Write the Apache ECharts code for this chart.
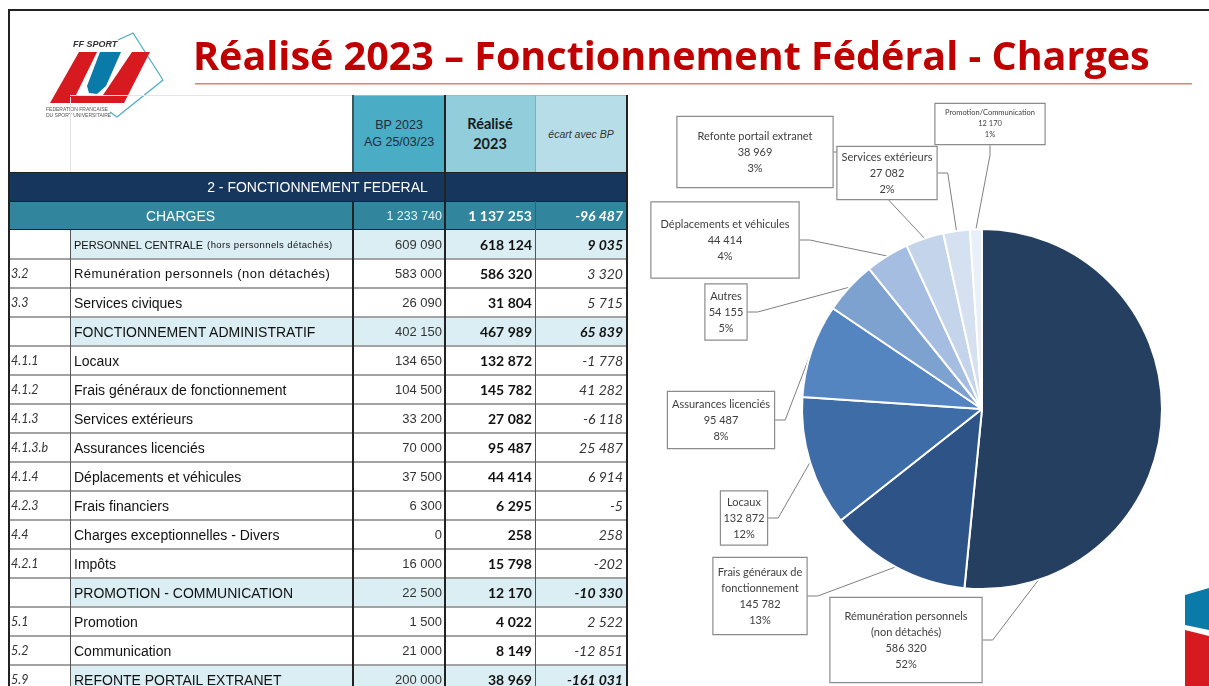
<!DOCTYPE html>
<html>
<head>
<meta charset="utf-8">
<script src="https://cdn.jsdelivr.net/npm/echarts@6/dist/echarts.min.js"></script>
<style>
html, body { margin: 0; padding: 0; background: #fff; }
#chart { position: absolute; left: 0; top: 0; width: 1209px; height: 686px; }
#table { position: absolute; left: 8px; top: 95px; width: 621px; height: 591px; overflow: hidden;
  font-family: "Liberation Sans", Arial, sans-serif; }
.c { position: absolute; box-sizing: border-box; white-space: nowrap; display: flex; align-items: center; overflow: hidden; }
.ln { position: absolute; }
</style>
</head>
<body>
<div id="chart"></div>
<div id="table"></div>
<script>
// pie data (Réalisé 2023)
const pieNames = [
  'Rémunération personnels\n(non détachés)',
  'Frais généraux de\nfonctionnement',
  'Locaux',
  'Assurances licenciés',
  'Autres',
  'Déplacements et véhicules',
  'Refonte portail extranet',
  'Services extérieurs',
  'Promotion/Communication'
];
const pieValues = [586320, 145782, 132872, 95487, 54155, 44414, 38969, 27082, 12170];
const pieColors = ['#253f60', '#2e5386', '#3e6ca6', '#5585c0', '#7ea2cf', '#a4bde0', '#c4d4ea', '#d5e1f0', '#e9eff8'];

// callout boxes: centre x, centre y, width, height
const calloutBoxes = [
  [906, 640, 153, 84],
  [760, 596, 95, 76],
  [744, 518, 48, 53],
  [721, 420, 108, 56],
  [726, 312, 43, 55],
  [725, 240, 149, 75],
  [755, 152, 157, 70],
  [887, 173, 101, 52],
  [990, 124, 111, 40]
];

// table data
const tableCodes = ['', '3.2', '3.3', '', '4.1.1', '4.1.2', '4.1.3', '4.1.3.b', '4.1.4', '4.2.3', '4.4', '4.2.1', '', '5.1', '5.2', '5.9'];
const tableLabels = [
  'PERSONNEL CENTRALE (hors personnels détachés)',
  'Rémunération personnels (non détachés)',
  'Services civiques',
  'FONCTIONNEMENT ADMINISTRATIF',
  'Locaux',
  'Frais généraux de fonctionnement',
  'Services extérieurs',
  'Assurances licenciés',
  'Déplacements et véhicules',
  'Frais financiers',
  'Charges exceptionnelles - Divers',
  'Impôts',
  'PROMOTION - COMMUNICATION',
  'Promotion',
  'Communication',
  'REFONTE PORTAIL EXTRANET'
];
const bpValues = [609090, 583000, 26090, 402150, 134650, 104500, 33200, 70000, 37500, 6300, 0, 16000, 22500, 1500, 21000, 200000];
const realiseValues = [618124, 586320, 31804, 467989, 132872, 145782, 27082, 95487, 44414, 6295, 258, 15798, 12170, 4022, 8149, 38969];
const ecartValues = [9035, 3320, 5715, 65839, -1778, 41282, -6118, 25487, 6914, -5, 258, -202, -10330, 2522, -12851, -161031];
const sectionRows = [0, 3, 12, 15];
const chargesTotals = [1233740, 1137253, -96487];

const fmt = n => String(n).replace(/\B(?=(\d{3})+(?!\d))/g, ' ');

// ---------- table ----------
const tbl = document.getElementById('table');
let html = '';
function cell(x, y, w, h, text, css) {
  html += `<div class="c" style="left:${x}px;top:${y}px;width:${w}px;height:${h}px;${css || ''}">${text}</div>`;
}
function line(x, y, w, h, color) {
  html += `<div class="ln" style="left:${x}px;top:${y}px;width:${w}px;height:${h}px;background:${color}"></div>`;
}
const ROW0 = 135, RH = 29;

// header
cell(345, 0, 92, 77, 'BP 2023<br>AG 25/03/23', 'background:#4bacc6;justify-content:center;text-align:center;font-size:12.5px;line-height:17px;color:#1f2d3a;');
cell(437, 0, 90, 77, 'Réalisé<br>2023', 'background:#92cddc;justify-content:center;text-align:center;font-family:Lato;font-weight:bold;font-size:14.5px;line-height:20px;color:#1a1a1a;');
cell(527, 0, 92, 77, 'écart avec BP', 'background:#b7dee8;justify-content:center;font-style:italic;font-size:10.5px;color:#333;');
cell(0, 77, 619, 29, '2 - FONCTIONNEMENT FEDERAL', 'background:#17365d;justify-content:center;color:#fff;font-size:14px;');
cell(0, 106, 345, 29, 'CHARGES', 'background:#31859c;justify-content:center;color:#fff;font-size:14px;');
cell(345, 106, 92, 29, fmt(chargesTotals[0]), 'background:#31859c;justify-content:flex-end;padding-right:3px;color:#e8f4f7;font-size:12.5px;');
cell(437, 106, 90, 29, fmt(chargesTotals[1]), 'background:#31859c;justify-content:flex-end;padding-right:3px;color:#fff;font-family:Lato;font-weight:bold;font-size:14px;');
cell(527, 106, 92, 29, fmt(chargesTotals[2]), 'background:#31859c;justify-content:flex-end;padding-right:4px;color:#fff;font-family:Lato;font-weight:bold;font-style:italic;font-size:14px;');

tableLabels.forEach((lab, i) => {
  const y = ROW0 + i * RH;
  const sec = sectionRows.includes(i);
  const bg = sec ? '#daeef3' : '#fff';
  cell(0, y, 62, RH, tableCodes[i], 'background:#fff;padding-left:3px;font-family:Lato;font-style:italic;font-size:12.5px;color:#333;');
  let labHtml = lab, extra = 'font-size:14px;';
  if (i === 0) {
    labHtml = '<span style="font-size:11px">PERSONNEL CENTRALE</span>&nbsp;<span style="font-size:9.5px;letter-spacing:0.4px">(hors personnels détachés)</span>';
  }
  if (i === 1) extra = 'font-size:13px;letter-spacing:0.45px;';
  cell(62, y, 283, RH, labHtml, `background:${bg};padding-left:4px;${extra}color:#111;`);
  cell(345, y, 92, RH, fmt(bpValues[i]), `background:${bg};justify-content:flex-end;padding-right:3px;font-size:13px;color:#333;`);
  cell(437, y, 90, RH, fmt(realiseValues[i]), `background:${bg};justify-content:flex-end;padding-right:3px;font-family:Lato;font-weight:bold;font-size:14px;color:#111;`);
  cell(527, y, 92, RH, fmt(ecartValues[i]), `background:${bg};justify-content:flex-end;padding-right:4px;font-family:Lato;font-style:italic;font-size:14px;color:#333;${sec ? 'font-weight:bold;color:#111;' : ''}`);
});

// grid lines
for (let i = 1; i <= tableLabels.length; i++) line(0, ROW0 + i * RH - 1, 619, 2, '#a3a3a3');
line(0, 77, 619, 1, '#222');
line(0, 106, 619, 1, '#222');
line(0, 134, 619, 1, '#222');
line(62, 0, 283, 1, '#e4e4e4');
line(345, 0, 274, 1, '#9fb9c3');
line(62, 2, 1, 75, '#e2e2e2');
line(62, 135, 1, 460, '#555');
line(0, 0, 2, 600, '#222');
line(344, 0, 2, 77, '#3a5560');
line(344, 106, 2, 500, '#222');
line(436, 0, 2, 600, '#222');
line(527, 0, 1, 77, '#8ab');
line(527, 106, 1, 500, '#555');
line(618, 0, 2, 600, '#222');
tbl.innerHTML = html;

// ---------- chart ----------
const chart = echarts.init(document.getElementById('chart'), null, { renderer: 'canvas' });

const pieData = pieNames.map((name, i) => {
  const small = i === pieNames.length - 1;
  const lh = small ? 11 : 16;
  const lines = name.split('\n').length + 2;
  const box = calloutBoxes[i];
  const pv = Math.max(0, (box[3] - lines * lh) / 2);
  return {
    name: name,
    value: pieValues[i],
    itemStyle: { color: pieColors[i] },
    label: {
      width: box[2] - 2,
      padding: [pv, 0, pv, 0],
      fontSize: small ? 7.5 : 11,
      lineHeight: lh
    }
  };
});

const option = {
  animation: false,
  title: {
    text: 'Réalisé 2023 – Fonctionnement Fédéral - Charges',
    left: 193,
    top: 39,
    padding: 0,
    textStyle: { fontFamily: 'Open Sans', fontWeight: 'bold', fontSize: 39.5, color: '#c00000' }
  },
  graphic: [
    { type: 'rect', shape: { x: 8, y: 9, width: 1201, height: 2 }, style: { fill: '#222' } },
    { type: 'rect', shape: { x: 8, y: 9, width: 2, height: 677 }, style: { fill: '#222' } },
    { type: 'rect', shape: { x: 195, y: 83, width: 997, height: 1.5 }, style: { fill: '#e87a7a' } },
    // logo
    { type: 'polyline', shape: { points: [[118, 40], [133, 33], [163, 80], [117, 117], [110, 112]] },
      style: { stroke: '#4bacc6', lineWidth: 1.2, fill: null } },
    { type: 'polygon', shape: { points: [[79, 52], [97, 52], [76, 95], [103, 95], [132, 52], [150, 52], [124, 103], [50, 103]] },
      style: { fill: '#d71920' } },
    { type: 'polygon', shape: { points: [[100, 52], [121, 52], [106, 86], [97, 94], [89, 93], [87, 86]] },
      style: { fill: '#0a7aa8' } },
    { type: 'text', x: 73, y: 40, style: { text: 'FF SPORT', font: 'italic bold 9px "Liberation Sans"', fill: '#333' } },
    { type: 'text', x: 46, y: 107, style: { text: 'FEDERATION FRANCAISE\nDU SPORT UNIVERSITAIRE', font: '5px "Liberation Sans"', fill: '#555', lineHeight: 6 } },
    // corner decoration
    { type: 'polygon', shape: { points: [[1185, 595], [1209, 588], [1209, 630], [1185, 625]] }, style: { fill: '#0a7aa8' } },
    { type: 'polygon', shape: { points: [[1185, 630], [1209, 636], [1209, 686], [1185, 686]] }, style: { fill: '#d71920' } }
  ],
  series: [{
    type: 'pie',
    center: [982, 409],
    radius: 180,
    startAngle: 90,
    clockwise: true,
    percentPrecision: 0,
    avoidLabelOverlap: false,
    itemStyle: { borderColor: '#fff', borderWidth: 2 },
    label: {
      show: true,
      position: 'outside',
      formatter: p => p.name + '\n' + fmt(p.value) + '\n' + p.percent + '%',
      fontFamily: 'Lato',
      color: '#404040',
      align: 'center',
      backgroundColor: '#fff',
      borderColor: '#8c8c8c',
      borderWidth: 1.2
    },
    labelLine: { show: true, length: 10, length2: 10, lineStyle: { color: '#7f7f7f', width: 1 } },
    labelLayout: function (params) {
      const b = calloutBoxes[params.dataIndex];
      return { x: b[0], y: b[1], align: 'center', verticalAlign: 'middle' };
    },
    data: pieData
  }]
};
chart.setOption(option);
</script>
</body>
</html>
